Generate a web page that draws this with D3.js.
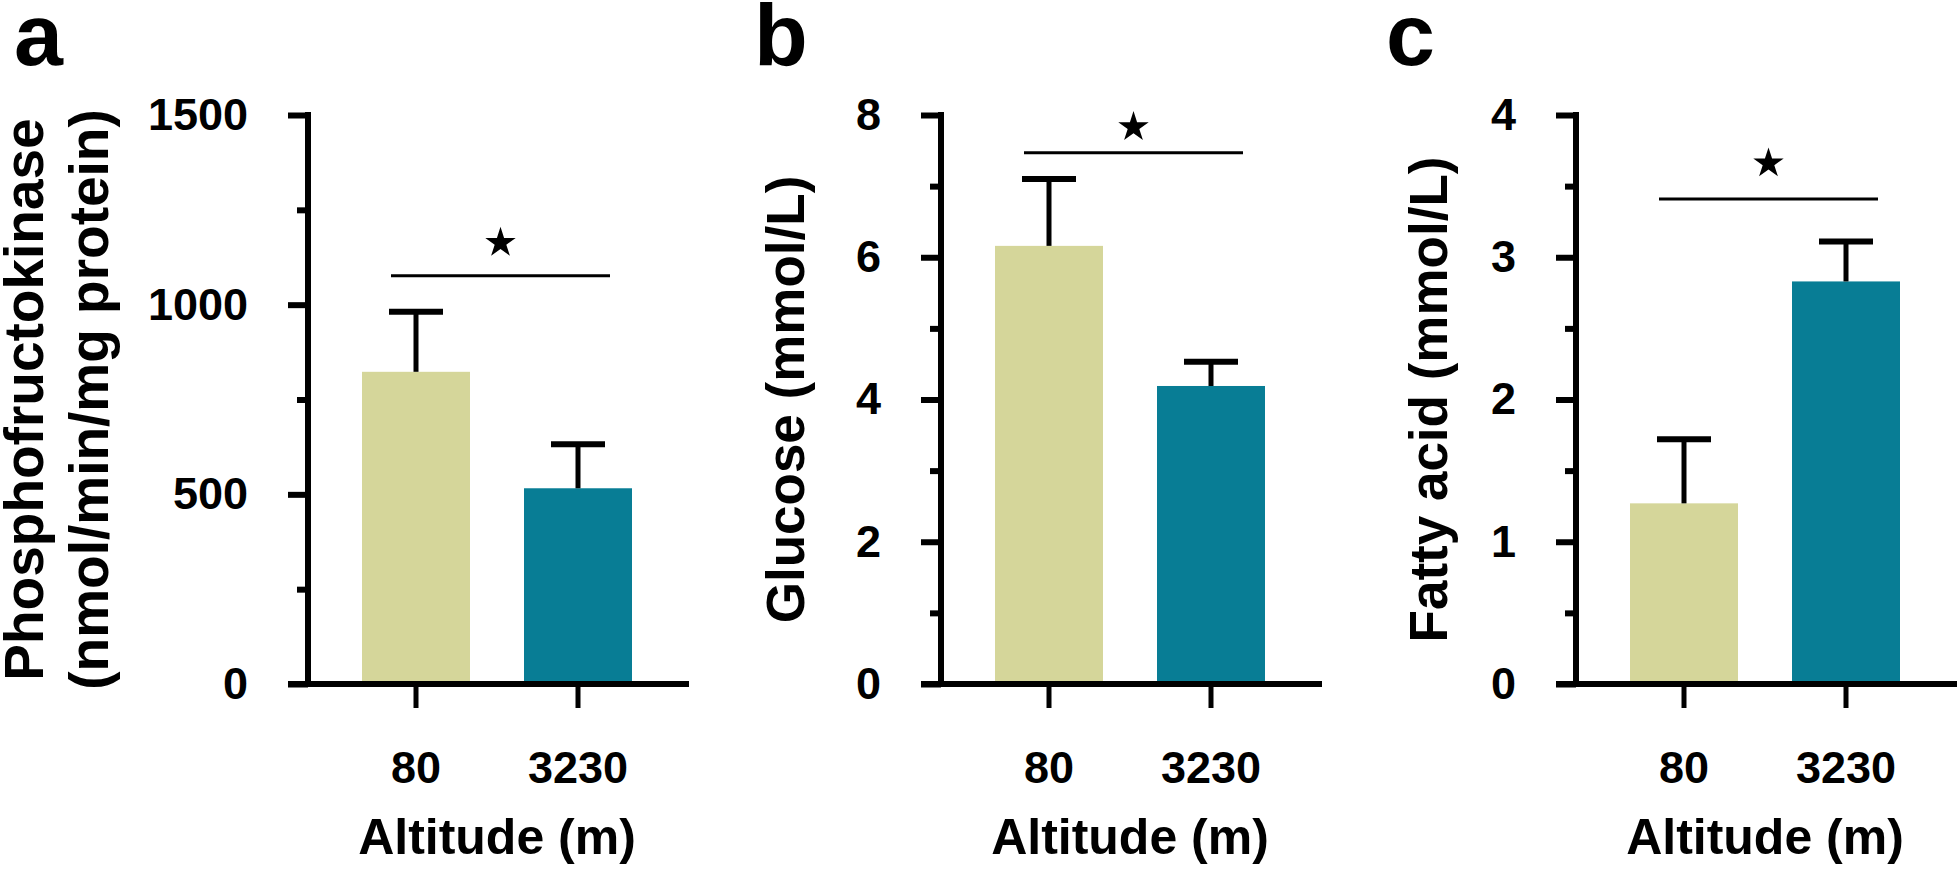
<!DOCTYPE html>
<html><head><meta charset="utf-8">
<script src="https://cdn.jsdelivr.net/npm/d3@7"></script>
<style>
body{margin:0;background:#fff}
svg{display:block}
text{font-family:"Liberation Sans",Arial,Helvetica,sans-serif;font-weight:bold;fill:#000}
</style>
</head><body>
<svg id="chart" width="1958" height="870"></svg>
<script>
// ---- data ----
const categories = ["80", "3230"];
const panelLetters = ["a", "b", "c"];
const pfkMeans = [823, 516];
const pfkErrors = [158, 116];
const glucoseMeans = [6.16, 4.19];
const glucoseErrors = [0.94, 0.34];
const fattyMeans = [1.27, 2.83];
const fattyErrors = [0.45, 0.28];
const pfkTicks = [0, 500, 1000, 1500];
const pfkMinorTicks = [250, 750, 1250];
const glucoseTicks = [0, 2, 4, 6, 8];
const glucoseMinorTicks = [1, 3, 5, 7];
const fattyTicks = [0, 1, 2, 3, 4];
const fattyMinorTicks = [0.5, 1.5, 2.5, 3.5];
const yMaxima = [1500, 8, 4];
const sigLineLevels = [1076, 7.47, 3.41];
const starLevels = [1163, 7.83, 3.66];
const yTitles = [["Phosphofructokinase", "(nmol/min/mg protein)"], ["Glucose (mmol/L)"], ["Fatty acid (mmol/L)"]];
const xTitle = "Altitude (m)";
const barColors = ["#d5d69a", "#087d95"];

const means = [pfkMeans, glucoseMeans, fattyMeans];
const errors = [pfkErrors, glucoseErrors, fattyErrors];
const majors = [pfkTicks, glucoseTicks, fattyTicks];
const minors = [pfkMinorTicks, glucoseMinorTicks, fattyMinorTicks];

// ---- layout ----
const layout = [
  {x0: 308, titleX: [43, 108], titleSize: 55, letterX: 14},
  {x0: 941, titleX: [804], titleSize: 53, letterX: 754},
  {x0: 1576, titleX: [1447], titleSize: 53, letterX: 1386}
];
const yTop = 115, yBot = 684;
const svg = d3.select("#chart");
const FONT = '"Liberation Sans",Arial,Helvetica,sans-serif';

layout.forEach((L, i) => {
  const x0 = L.x0;
  const x = d3.scaleBand().domain(categories).range([x0, x0 + 378])
    .paddingInner(1 / 3).paddingOuter(1 / 3);
  const y = d3.scaleLinear().domain([0, yMaxima[i]]).range([yBot, yTop]);
  const g = svg.append("g");
  const rows = categories.map((c, j) => ({c, m: means[i][j], e: errors[i][j], j}));

  // bars
  g.selectAll("rect.bar").data(rows).join("rect")
    .attr("x", d => x(d.c)).attr("y", d => y(d.m))
    .attr("width", x.bandwidth()).attr("height", d => yBot - y(d.m))
    .attr("fill", d => barColors[d.j]);

  // error bars (upper only)
  const cx = d => x(d.c) + x.bandwidth() / 2;
  g.selectAll("line.err").data(rows).join("line")
    .attr("x1", cx).attr("x2", cx)
    .attr("y1", d => y(d.m)).attr("y2", d => y(d.m + d.e))
    .attr("stroke", "#000").attr("stroke-width", 5);
  g.selectAll("line.cap").data(rows).join("line")
    .attr("x1", d => cx(d) - 27).attr("x2", d => cx(d) + 27)
    .attr("y1", d => y(d.m + d.e)).attr("y2", d => y(d.m + d.e))
    .attr("stroke", "#000").attr("stroke-width", 6);

  // y axis minor ticks
  const ym = g.append("g").attr("transform", `translate(${x0},0)`)
    .call(d3.axisLeft(y).tickValues(minors[i]).tickSize(11).tickSizeOuter(0).tickFormat(""));
  ym.select(".domain").remove();
  ym.selectAll("line").attr("stroke-width", 6);

  // y axis major
  const ya = g.append("g").attr("transform", `translate(${x0},0)`)
    .call(d3.axisLeft(y).tickValues(majors[i]).tickSize(20).tickPadding(40).tickSizeOuter(0).tickFormat(d3.format("d")));
  ya.attr("font-family", FONT).attr("font-size", 45);
  ya.select(".domain").attr("stroke-width", 6).attr("stroke-linecap", "square")
    .attr("d", `M0,${yBot}V${yTop}`);
  ya.selectAll("line").attr("stroke-width", 6);
  ya.selectAll("text").attr("font-weight", "bold");

  // x axis
  const xa = g.append("g").attr("transform", `translate(0,${yBot})`)
    .call(d3.axisBottom(x).tickSize(24).tickPadding(43).tickSizeOuter(0));
  xa.attr("font-family", FONT).attr("font-size", 45);
  xa.select(".domain").attr("stroke-width", 6).attr("d", `M${x0 - 20},0H${x0 + 381}`);
  xa.selectAll("line").attr("stroke-width", 5);
  xa.selectAll("text").attr("font-weight", "bold");

  // significance line and star
  const sx1 = x(categories[0]) + 29, sx2 = x(categories[1]) + x.bandwidth() - 22;
  g.append("line").attr("x1", sx1).attr("x2", sx2)
    .attr("y1", y(sigLineLevels[i])).attr("y2", y(sigLineLevels[i]))
    .attr("stroke", "#000").attr("stroke-width", 3);
  g.append("path").attr("d", d3.symbol(d3.symbolStar, 287)())
    .attr("transform", `translate(${(sx1 + sx2) / 2},${y(starLevels[i])})`)
    .attr("fill", "#000");

  // y title
  yTitles[i].forEach((t, k) => {
    g.append("text").attr("transform", `translate(${L.titleX[k]},${(yTop + yBot) / 2}) rotate(-90)`)
      .attr("text-anchor", "middle").attr("font-size", L.titleSize).text(t);
  });

  // x title
  g.append("text").attr("x", x0 + 189).attr("y", 854).attr("text-anchor", "middle")
    .attr("font-size", 50).text(xTitle);

  // panel letter
  g.append("text").attr("x", L.letterX).attr("y", 65).attr("font-size", 88).text(panelLetters[i]);
});
</script>
</body></html>
